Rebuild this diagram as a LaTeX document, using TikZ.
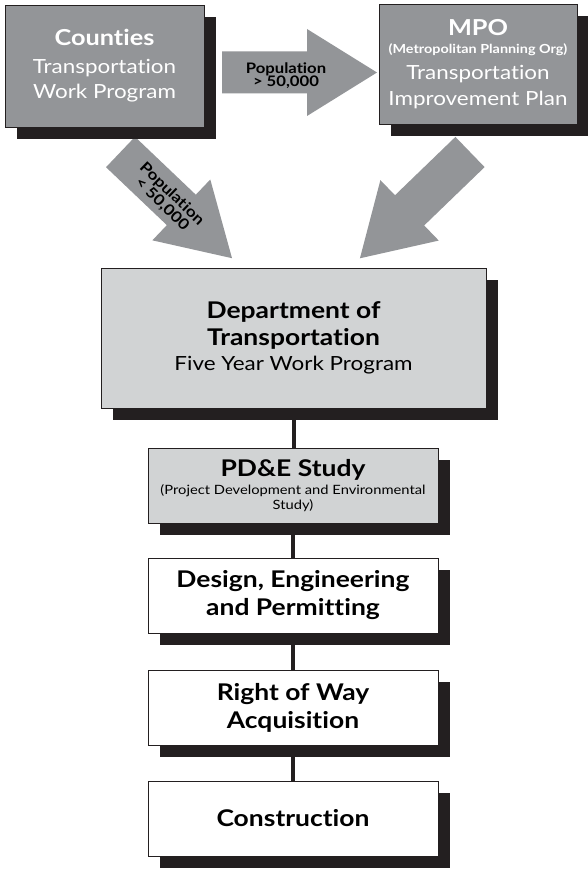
\documentclass[tikz,border=0pt]{standalone}
\usepackage{fontspec}
\setmainfont{Lato}[FakeStretch=1.15, Ligatures={NoCommon}]
\usetikzlibrary{shadows}
\definecolor{darkg}{RGB}{147,149,152}
\definecolor{lightg}{RGB}{209,211,212}
\definecolor{shad}{RGB}{35,31,32}
\begin{document}
\begin{tikzpicture}[x=1pt,y=-1pt,
  box/.style={draw=shad, line width=0.8pt, inner sep=0pt, align=center,
    drop shadow={shadow xshift=12pt, shadow yshift=-12pt, opacity=1, fill=shad}},
  darkbox/.style={box, fill=darkg, text=white},
  lightbox/.style={box, fill=lightg, text=black},
  whitebox/.style={box, fill=white, text=black},
  stepbox/.style={minimum width=290pt, minimum height=75pt},
  bigarrow/.style={fill=darkg},
  conn/.style={draw=shad, line width=4pt},
  poplabel/.style={font=\fontsize{14.5}{13.5}\selectfont\bfseries, align=center, inner sep=0pt},
  head/.style={font=\fontsize{23}{28}\selectfont\bfseries}
]
\useasboundingbox (0,0) rectangle (587,869);
\fill[white] (0,0) rectangle (587,869);

% block arrows
\coordinate (a1) at (222,72.5);
\coordinate (a2) at (120.5,152);
\coordinate (a3) at (470,152);
\fill[bigarrow, shift={(a1)}] (0,-21) -- (85,-21) -- (85,-43.5) -- (155,0) -- (85,43.5) -- (85,21) -- (0,21) -- cycle;
\fill[bigarrow, shift={(a2)}, rotate=-43.6] (0,-21) -- (84,-21) -- (84,-42) -- (154,0) -- (84,42) -- (84,21) -- (0,21) -- cycle;
\fill[bigarrow, shift={(a3)}, rotate=-136] (0,-21) -- (84,-21) -- (84,-42) -- (153,0) -- (84,42) -- (84,21) -- (0,21) -- cycle;
\node[poplabel] (p1) at (286,75.5) {Population\\> 50,000};
\node[poplabel, font=\fontsize{15}{14}\selectfont\bfseries, rotate=-44] (p2) at (167,199) {Population\\< 50,000};

% top boxes
\node[darkbox, minimum width=199pt, minimum height=122pt,
  font=\fontsize{19.5}{25}\selectfont] (cty) at (104.5,66)
  {{\fontsize{22}{26}\selectfont\bfseries Counties}\\[3pt]Transportation\\Work Program};
\node[darkbox, minimum width=198pt, minimum height=120pt,
  font=\fontsize{19.5}{26}\selectfont] (mpo) at (478,64)
  {{\fontsize{22}{26}\selectfont\bfseries MPO}\\[-8pt]{\fontsize{12.5}{13}\selectfont\bfseries (Metropolitan Planning Org)}\\Transportation\\Improvement Plan};

% department box
\node[lightbox, minimum width=385pt, minimum height=140pt,
  font=\fontsize{19.5}{25}\selectfont] (dot) at (293.5,338)
  {{\fontsize{23}{27}\selectfont\bfseries Department of}\\[2pt]{\fontsize{23}{27}\selectfont\bfseries Transportation}\\Five Year Work Program};

% step boxes
\node[lightbox, stepbox, font=\fontsize{12.8}{15}\selectfont] (pde) at (293,485.5)
  {{\fontsize{23}{27}\selectfont\bfseries PD\&E Study}\\[3pt](Project Development and Environmental\\Study)};
\node[whitebox, stepbox, head, align=center] (des) at (293,595.5) {Design, Engineering\\and Permitting};
\node[whitebox, stepbox, head, align=center] (row) at (293,707.5) {Right of Way\\Acquisition};
\node[whitebox, stepbox, head] (con) at (293,818.5) {Construction};

% connectors
\draw[conn] (dot.south) -- (dot.south |- pde.north);
\draw[conn] (pde.south) -- (des.north);
\draw[conn] (des.south) -- (row.north);
\draw[conn] (row.south) -- (con.north);
\end{tikzpicture}
\end{document}
